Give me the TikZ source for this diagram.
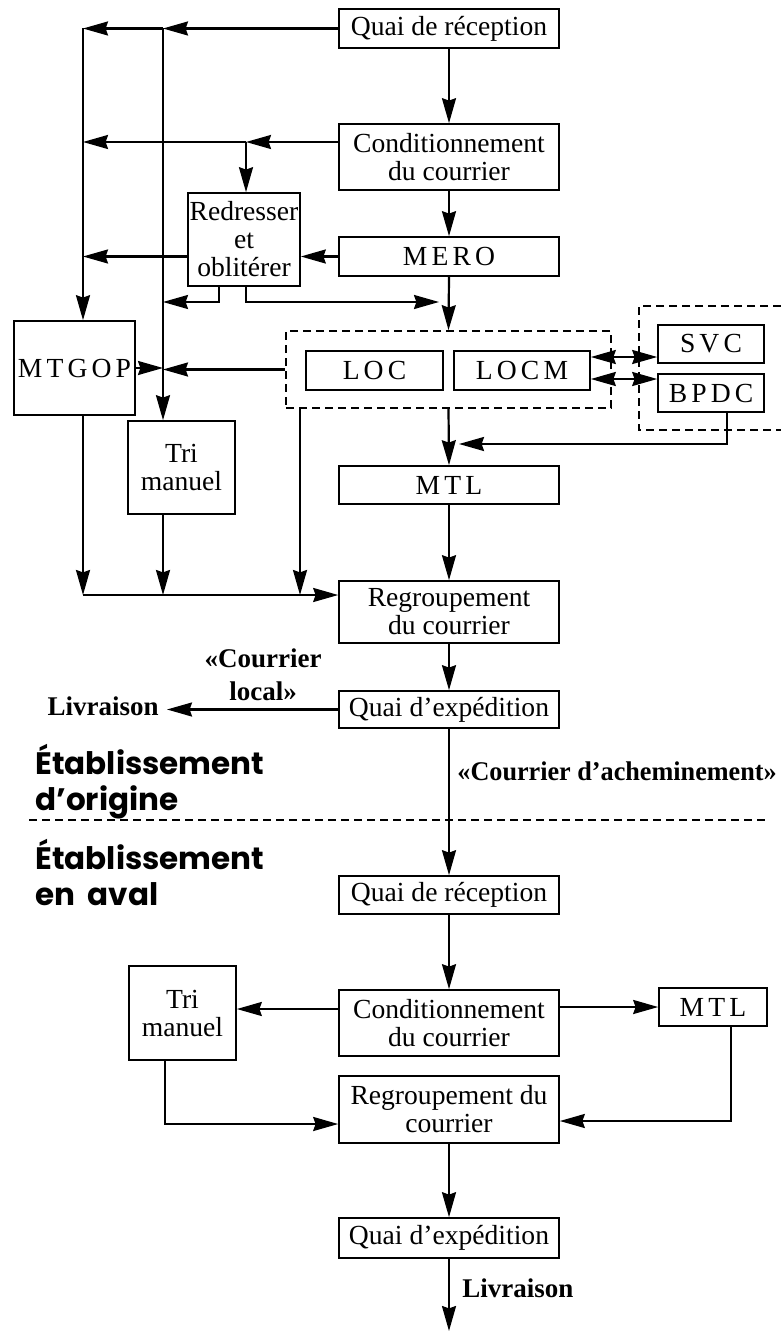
\documentclass[tikz,border=0pt]{standalone}
\usepackage{fontspec}
\setmainfont{Liberation Serif}
\newfontfamily\headfont{Poppins}
\newfontfamily\achfont{Liberation Serif}[FakeStretch=0.97]
\usetikzlibrary{arrows.meta,calc}
\begin{document}
\begin{tikzpicture}[x=0.5pt,y=-0.5pt,
  blk/.style={draw, line width=0.8pt, inner sep=0pt, align=center,
    font={\fontsize{13.8}{14}\selectfont}},
  spaced/.style={font={\fontsize{13.8}{14}\selectfont\spaceskip=0.15em\relax}},
  dsh/.style={line width=0.8pt, dash pattern=on 4pt off 2.5pt},
  tip/.tip={Stealth[length=12.5pt,width=7pt,inset=1.2pt]},
  arr/.style={line width=1.1pt, line join=miter, -tip},
  darr/.style={line width=1.1pt, tip-tip},
  lbl/.style={inner sep=0pt, font={\bfseries\fontsize{13.5}{16.5}\selectfont}},
  head/.style={inner sep=0pt, align=left, font={\headfont\bfseries\fontsize{15.5}{18}\selectfont\spaceskip=0.4em\relax}}
]
\useasboundingbox (0,0) rectangle (781,1332);

% ---------- upper establishment ----------
\node[blk, minimum width=110pt, minimum height=19.5pt] (Q1) at (449,28.5) {Quai de réception};
\node[blk, minimum width=110pt, minimum height=33pt] (C1) at (449,157) {Conditionnement\\du courrier};
\node[blk, spaced, minimum width=110pt, minimum height=19.5pt] (MERO) at (449,256.5) {M E R O};
\node[blk, minimum width=56pt, minimum height=46.5pt] (Red) at (244,239.5) {Redresser\\et\\oblitérer};
\node[draw, dsh, minimum width=162.5pt, minimum height=38.5pt] (grp) at (448.5,369.5) {};
\node[blk, spaced, minimum width=68.5pt, minimum height=19.5pt] (LOC) at (374.5,370.5) {L O C};
\node[blk, spaced, minimum width=68pt, minimum height=19.5pt] (LOCM) at (522,370.5) {L O C M};
\node[blk, spaced, minimum width=60.5pt, minimum height=47pt] (MTGOP) at (74.5,368) {M T G O P};
\node[blk, minimum width=53.5pt, minimum height=46.5pt] (Tri1) at (181.5,467.5) {Tri\\manuel};
\node[blk, spaced, minimum width=53pt, minimum height=19pt] (SVC) at (711,344) {S V C};
\node[blk, spaced, minimum width=53pt, minimum height=19pt] (BPDC) at (711,393) {B P D C};
\node[blk, spaced, minimum width=110pt, minimum height=19pt] (MTL1) at (449,485) {M T L};
\node[blk, minimum width=110pt, minimum height=31pt] (Reg1) at (449,612) {Regroupement\\du courrier};
\node[blk, minimum width=110pt, minimum height=18.5pt] (QE1) at (449,709.5) {Quai d’expédition};

% right dashed group (open to the right)
\coordinate (rbA) at (781,306);
\coordinate (rbB) at (639,306);
\coordinate (rbC) at (639,430);
\coordinate (rbD) at (781,430);
\draw[dsh] (rbA) -- (rbB) -- (rbC) -- (rbD);

% helper coordinates
\coordinate (L1top) at (83,28.5);
\coordinate (L2top) at (163,28.5);
\coordinate (Cj) at (246,142);
\coordinate (Rb1) at (219,302);
\coordinate (Rb2) at (246,302);
\coordinate (Rend) at (439,302);
\coordinate (B1) at (83,595);
\coordinate (B3) at (300,595);
\coordinate (Bp) at (727,444);
\coordinate (Bpend) at (459,444);
\coordinate (da1) at (0,357);
\coordinate (da2) at (0,379);

% left feeds
\draw[arr] (Q1.west) -- (L2top);
\draw[arr] (L2top) -- (L1top);
\draw[arr] (L1top) -- (L1top |- MTGOP.north);
\draw[arr] (L2top) -- (L2top |- Tri1.north);
\draw[arr] (C1.west |- Cj) -- (Cj);
\draw[arr] (Cj) -- (L1top |- Cj);
\draw[arr] (Cj) -- (Cj |- Red.north);
\draw[arr] (MERO.west) -- (Red.east |- MERO.west);
\draw[arr] (Red.west |- MERO.west) -- (L1top |- MERO.west);
\draw[arr] (Red.south -| Rb1) -- (Rb1) -- (L2top |- Rb1);
\draw[arr] (Red.south -| Rb2) -- (Rb2) -- (Rend);

% main column
\draw[arr] (Q1.south) -- (C1.north);
\draw[arr] (C1.south) -- (MERO.north);
\draw[arr] (MERO.south) -- (grp.north);
\draw[arr] (grp.south) -- (MTL1.north);
\draw[arr] (MTL1.south) -- (Reg1.north);
\draw[arr] (Reg1.south) -- (QE1.north);

% LOC group connections
\draw[arr] (grp.west) -- (L2top |- grp.west);
\draw[arr] (MTGOP.east) -- (L2top |- MTGOP.east);
\draw[darr] (LOCM.east |- da1) -- (SVC.west |- da1);
\draw[darr] (LOCM.east |- da2) -- (BPDC.west |- da2);
\draw[arr] (BPDC.south -| Bp) -- (Bp) -- (Bpend);

% collecting line
\draw[arr] (L1top |- MTGOP.south) -- (B1);
\draw[arr] (Tri1.south -| L2top) -- (L2top |- B1);
\draw[arr] (grp.south -| B3) -- (B3);
\draw[arr] (B1) -- (Reg1.west |- B1);

% delivery
\node[lbl, anchor=base east, inner xsep=4pt] (Liv1) at (167,715) {Livraison};
\draw[arr] (QE1.west) -- (Liv1.east |- QE1.west);
\node[lbl, align=center] (loc) at (263,675) {«Courrier\\local»};

% headings and separator
\node[head, anchor=west] (h1) at (35,782) {Établissement\\d’origine};
\node[head, anchor=west] (h2) at (35,872) {Établissement\\en aval};
\coordinate (sepA) at (29,820);
\coordinate (sepB) at (765,820);
\draw[dsh] (sepA) -- (sepB);
\node[inner sep=0pt, anchor=base west, font={\achfont\bfseries\fontsize{13.5}{16}\selectfont}] (ach) at (457,780) {«Courrier d’acheminement»};

% ---------- downstream establishment ----------
\node[blk, minimum width=110pt, minimum height=19pt] (QR2) at (449,895) {Quai de réception};
\node[blk, minimum width=110pt, minimum height=33pt] (C2) at (449,1023) {Conditionnement\\du courrier};
\node[blk, minimum width=53.5pt, minimum height=47pt] (Tri2) at (182.5,1013) {Tri\\manuel};
\node[blk, spaced, minimum width=54pt, minimum height=19pt] (MTL2) at (713,1007) {M T L};
\node[blk, minimum width=110pt, minimum height=33.5pt] (Reg2) at (449,1109.5) {Regroupement du\\courrier};
\node[blk, minimum width=110pt, minimum height=20pt] (QE2) at (449,1238) {Quai d’expédition};

\coordinate (c1009) at (0,1009);
\coordinate (t2) at (165,1124);
\coordinate (m2) at (731,1121);
\coordinate (fin) at (449,1331);

\draw[arr] (QE1.south) -- (QR2.north);
\draw[arr] (QR2.south) -- (C2.north);
\draw[arr] (C2.west |- c1009) -- (Tri2.east |- c1009);
\draw[arr] (C2.east |- MTL2.west) -- (MTL2.west);
\draw[arr] (Tri2.south -| t2) -- (t2) -- (Reg2.west |- t2);
\draw[arr] (MTL2.south -| m2) -- (m2) -- (Reg2.east |- m2);
\draw[arr] (Reg2.south) -- (QE2.north);
\draw[arr] (QE2.south) -- (fin);
\node[lbl, anchor=base west] (Liv2) at (462,1297) {Livraison};
\end{tikzpicture}
\end{document}
